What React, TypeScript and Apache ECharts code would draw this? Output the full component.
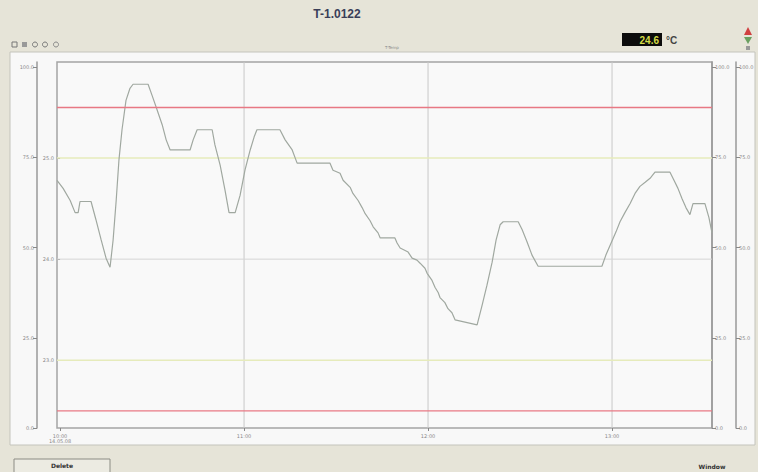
import React, { useEffect, useRef } from "react";
import * as echarts from "echarts";

// time in minutes from 10:00
const times = [
  -1, 1, 3.3, 4.9, 5.9, 6.5, 10.1, 11.7, 13.4, 15.0, 16.3, 17.3, 18.3, 19.2, 20.2, 21.5, 22.8, 23.8,
  28.7, 30.0, 31.6, 33.3, 34.6, 35.9, 42.4, 43.4, 44.7, 49.6, 50.5, 52.2, 53.8, 55.1, 57.1,
  58.7, 60.3, 62.0, 63.3, 64.2, 71.7, 73.4, 75.7, 77.3, 88.0, 89.0, 91.3, 92.3, 94.6, 95.5,
  97.2, 98.5, 99.5, 101.1, 102.1, 103.7, 104.4, 109.2, 109.9, 110.9, 113.5, 114.8, 116.4,
  117.4, 119.0, 119.7, 121.3, 122.3, 123.3, 123.9, 125.5, 126.5, 127.8, 128.8, 136.0,
  137.6, 139.2, 140.9, 142.2, 143.5, 144.5, 149.4, 150.7, 152.3, 153.9, 155.9, 176.7,
  178.0, 179.7, 181.3, 182.6, 184.2, 185.9, 187.5, 189.1, 190.8, 192.4, 194.0, 198.9,
  200.2, 201.5, 202.8, 204.1, 205.4, 206.4, 210.3, 211.6, 212.6,
];
const temps = [
  24.78, 24.7, 24.58, 24.46, 24.46, 24.57, 24.57, 24.39, 24.19, 24.01, 23.92, 24.19, 24.58, 24.98, 25.28, 25.57, 25.69, 25.73,
  25.73, 25.62, 25.48, 25.33, 25.18, 25.08, 25.08, 25.18, 25.28, 25.28, 25.13, 24.93, 24.68, 24.46, 24.46,
  24.63, 24.88, 25.08, 25.21, 25.28, 25.28, 25.18, 25.08, 24.95, 24.95, 24.88, 24.85, 24.78, 24.71, 24.65,
  24.58, 24.51, 24.45, 24.38, 24.32, 24.26, 24.21, 24.21, 24.16, 24.11, 24.07, 24.01, 23.99,
  23.96, 23.91, 23.86, 23.79, 23.72, 23.67, 23.62, 23.57, 23.51, 23.47, 23.4, 23.35,
  23.54, 23.74, 23.97, 24.19, 24.34, 24.37, 24.37, 24.29, 24.17, 24.04, 23.93, 23.93,
  24.04, 24.16, 24.27, 24.37, 24.46, 24.55, 24.65, 24.72, 24.76, 24.8, 24.86, 24.86,
  24.78, 24.7, 24.6, 24.51, 24.44, 24.55, 24.55, 24.41, 24.26,
];

const lowAlarm = 22.5;
const highAlarm = 25.5;
const warnLimits = [23, 25];
const setpoint = [24];
const timeRange = [-1, 212.6];
const tempRange = [22.33, 25.95];
const timeTicks = [0, 60, 120, 180];
const timeLabels = ["10:00\n14.05.08", "11:00", "12:00", "13:00"];
const tempTicks = [23, 24, 25];
const tempLabels = ["23.0", "24.0", "25.0"];
const auxTicks = [0, 25, 50, 75, 100];
const auxLabels = ["0.0", "25.0", "50.0", "75.0", "100.0"];
const currentValue = "24.6";
const title = "T-1.0122";

export default function App() {
  const ref = useRef<HTMLDivElement>(null);
  useEffect(() => {
    if (!ref.current) return;
    const chart = echarts.init(ref.current, undefined, { renderer: "svg" });
    const tinyLabel = { fontSize: 5, color: "#888", fontFamily: "DejaVu Sans" };
    const auxAxis = (position: string, offset: number) => ({
      type: "value",
      position,
      offset,
      min: 0,
      max: 101.4,
      axisLine: { show: true, lineStyle: { color: "#9a9a9a", width: 1.5 } },
      axisTick: { show: true, length: 4, customValues: auxTicks, lineStyle: { color: "#888" } },
      axisLabel: {
        ...tinyLabel,
        margin: 3,
        customValues: auxTicks,
        formatter: (v: number) => auxLabels[auxTicks.indexOf(v)] ?? "",
      },
      splitLine: { show: false },
    });
    const hLine = (v: number, color: string, width: number, name: string, z: number) => ({
      name,
      type: "line",
      yAxisIndex: 0,
      data: [[timeRange[0], v], [timeRange[1], v]],
      showSymbol: false,
      symbol: "none",
      silent: true,
      z,
      emphasis: { disabled: true },
      lineStyle: { color, width, type: "solid", opacity: 1 },
      itemStyle: { color },
    });
    const vLine = (v: number, color: string, width: number, name: string) => ({
      name,
      type: "line",
      yAxisIndex: 0,
      data: [[v, tempRange[0]], [v, tempRange[1]]],
      showSymbol: false,
      symbol: "none",
      silent: true,
      z: 2,
      emphasis: { disabled: true },
      lineStyle: { color, width, type: "solid" },
      itemStyle: { color },
    });
    const option: any = {
      animation: false,
      backgroundColor: "#e6e4d8",
      graphic: [
        { type: "rect", shape: { x: 10, y: 52, width: 745, height: 393 }, style: { fill: "#f8f8f8", stroke: "#c4c4bc", lineWidth: 1 }, z: -10 },
        { type: "text", x: 337, y: 14, style: { text: title, fontSize: 12, fontWeight: "bold", fill: "#3a3e58", fontFamily: "Liberation Sans", textAlign: "center", textVerticalAlign: "middle" } },
        { type: "text", x: 392, y: 47, style: { text: "T-Temp", fontSize: 4, fill: "#888", fontFamily: "DejaVu Sans", textAlign: "center", textVerticalAlign: "middle" } },
        { type: "rect", shape: { x: 622, y: 33, width: 40, height: 13 }, style: { fill: "#0c0c0c" } },
        { type: "text", x: 659, y: 40, style: { text: currentValue, fontSize: 10, fontWeight: "bold", fill: "#d4dc46", fontFamily: "Liberation Sans", textAlign: "right", textVerticalAlign: "middle" } },
        { type: "text", x: 666, y: 40, style: { text: "°C", fontSize: 10, fontWeight: "bold", fill: "#444", fontFamily: "Liberation Sans", textVerticalAlign: "middle" } },
        { type: "polygon", shape: { points: [[748, 27], [744, 35], [752, 35]] }, style: { fill: "#d04040" } },
        { type: "polygon", shape: { points: [[744, 37], [752, 37], [748, 44]] }, style: { fill: "#6aa060" } },
        { type: "rect", shape: { x: 746, y: 46, width: 4, height: 4 }, style: { fill: "#999" } },
        { type: "rect", shape: { x: 12, y: 42, width: 5, height: 5 }, style: { fill: "none", stroke: "#777", lineWidth: 1 } },
        { type: "rect", shape: { x: 22, y: 42, width: 5, height: 5 }, style: { fill: "#999" } },
        { type: "circle", shape: { cx: 35, cy: 44.5, r: 2.5 }, style: { fill: "none", stroke: "#777" } },
        { type: "circle", shape: { cx: 45, cy: 44.5, r: 2.5 }, style: { fill: "none", stroke: "#777" } },
        { type: "circle", shape: { cx: 56, cy: 44.5, r: 2.5 }, style: { fill: "none", stroke: "#888" } },
        { type: "rect", shape: { x: 14, y: 459, width: 96, height: 16 }, style: { fill: "#ecebe2", stroke: "#8c8c84", lineWidth: 1 } },
        { type: "text", x: 62, y: 465, style: { text: "Delete", fontSize: 6, fontWeight: "bold", fill: "#333", fontFamily: "DejaVu Sans", textAlign: "center", textVerticalAlign: "middle" } },
        { type: "text", x: 712, y: 466, style: { text: "Window", fontSize: 6, fontWeight: "bold", fill: "#333", fontFamily: "DejaVu Sans", textAlign: "center", textVerticalAlign: "middle" } },
      ],
      grid: {
        left: 57, right: 46, top: 62, bottom: 44,
        show: true, backgroundColor: "#f9f9f9", borderColor: "#a4a4a4", borderWidth: 1.5,
      },
      xAxis: {
        type: "value",
        min: timeRange[0],
        max: timeRange[1],
        axisLine: { show: false },
        axisTick: { show: true, length: 3, customValues: timeTicks, lineStyle: { color: "#888" } },
        axisLabel: {
          ...tinyLabel,
          margin: 5,
          customValues: timeTicks,
          formatter: (v: number) => timeLabels[timeTicks.indexOf(v)] ?? "",
        },
        splitLine: { show: false },
      },
      yAxis: [
        {
          type: "value",
          position: "left",
          min: tempRange[0],
          max: tempRange[1],
          axisLine: { show: false },
          axisTick: { show: true, length: 3, customValues: tempTicks, lineStyle: { color: "#888" } },
          axisLabel: {
            ...tinyLabel,
            margin: 3,
            customValues: tempTicks,
            formatter: (v: number) => tempLabels[tempTicks.indexOf(v)] ?? "",
          },
          splitLine: { show: false },
        },
        auxAxis("left", 20),
        auxAxis("right", 0),
        auxAxis("right", 24),
      ],
      series: [
        ...timeTicks.slice(1).map((v, i) => vLine(v, "#c8c8c8", 1, "grid" + i)),
        ...setpoint.map((v, i) => hLine(v, "#d6d6d6", 1, "setpoint" + i, 3)),
        ...warnLimits.map((v, i) => hLine(v, "#e6ebbb", 1.5, "warn" + i, 3)),
        hLine(lowAlarm, "rgb(232,120,132)", 1.3, "alarmLow", 8),
        hLine(highAlarm, "rgb(232,120,132)", 1.3, "alarmHigh", 8),
        {
          name: "T-1.0122",
          type: "line",
          yAxisIndex: 0,
          data: times.map((t, i) => [t, temps[i]]),
          showSymbol: false,
          symbol: "none",
          emphasis: { disabled: true },
          lineStyle: { color: "#a0a8a0", width: 1.2 },
          itemStyle: { color: "#a0a8a0" },
          z: 5,
        },
      ],
    };
    chart.setOption(option);
    return () => chart.dispose();
  }, []);
  return <div ref={ref} style={{ position: "fixed", left: 0, top: 0, width: 758, height: 472 }} />;
}
